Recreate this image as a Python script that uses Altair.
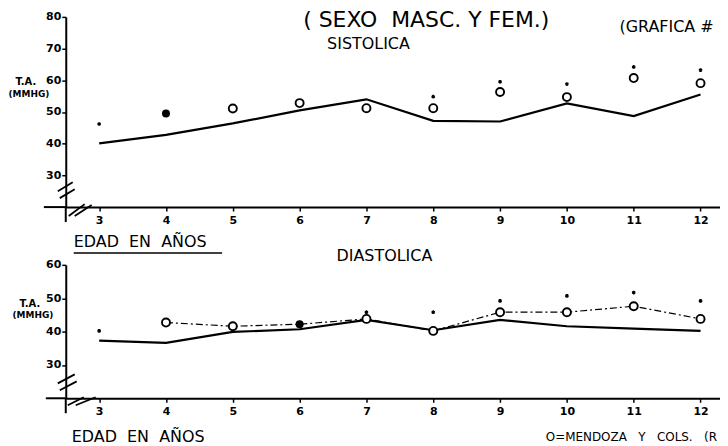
import altair as alt
import pandas as pd

# ---------------- data ----------------
ages = [3, 4, 5, 6, 7, 8, 9, 10, 11, 12]

# Sistolica panel
sist_line = [40.1, 42.8, 46.4, 50.5, 54.0, 47.2, 47.0, 52.7, 48.7, 55.5]
sist_mend_ages = [4, 5, 6, 7, 8, 9, 10, 11, 12]
sist_mend = [49.5, 51.1, 52.8, 51.2, 51.2, 56.3, 54.7, 60.7, 59.1]
sist_mend_filled = [True, False, False, False, False, False, False, False, False]
sist_star_ages = [3, 8, 9, 10, 11, 12]
sist_star = [45.9, 54.5, 59.2, 58.5, 63.9, 62.9]

# Diastolica panel
dias_line = [37.3, 36.6, 39.9, 40.7, 43.5, 40.4, 43.5, 41.6, 40.9, 40.2]
dias_mend_ages = [4, 5, 6, 7, 8, 9, 10, 11, 12]
dias_mend = [42.7, 41.6, 42.2, 43.8, 40.2, 45.8, 45.8, 47.6, 43.8]
dias_mend_filled = [False, False, True, False, False, False, False, False, False]
dias_star_ages = [3, 7, 8, 9, 10, 11, 12]
dias_star = [39.9, 45.5, 45.5, 48.9, 50.4, 51.4, 48.9]

sist_ticks = [30, 40, 50, 60, 70, 80]
dias_ticks = [30, 40, 50, 60]

FONT = "DejaVu Sans"
W = 657
XMAX = 2.5 + W / 67.1
STAR = "M0,-1L0,1M-0.87,-0.5L0.87,0.5M-0.87,0.5L0.87,-0.5"


def build_df(line_vals, m_ages, m_vals, m_filled, s_ages, s_vals):
    rows = []
    for a, v in zip(ages, line_vals):
        rows.append({"age": a, "value": v, "series": "line", "filled": False})
    for a, v, f in zip(m_ages, m_vals, m_filled):
        rows.append({"age": a, "value": v, "series": "mend", "filled": f})
    for a, v in zip(s_ages, s_vals):
        rows.append({"age": a, "value": v, "series": "star", "filled": False})
    return pd.DataFrame(rows)


def txt(text, x, y, size, align="center", weight="normal", baseline="middle"):
    return alt.Chart(alt.Data(values=[{}])).mark_text(
        text=text, font=FONT, fontSize=size, align=align, baseline=baseline,
        fontWeight=weight, color="black"
    ).encode(x=alt.value(x), y=alt.value(y))


def seg(x1, y1, x2, y2, w=2):
    return alt.Chart(alt.Data(values=[{}])).mark_rule(
        color="black", strokeWidth=w
    ).encode(x=alt.value(x1), y=alt.value(y1), x2=alt.value(x2), y2=alt.value(y2))


def panel(df, ymin, ymax, yticks, height, dashed_mend, texts):
    X = alt.X("age:Q", scale=alt.Scale(domain=[2.5, XMAX], nice=False, zero=False),
              axis=alt.Axis(values=ages, format="d", title=None, grid=False,
                            domainColor="black", domainWidth=2, tickColor="black",
                            tickWidth=1.5, tickSize=4, labelColor="black",
                            labelFont=FONT, labelFontSize=11, labelFontWeight="bold",
                            labelPadding=3))
    Y = alt.Y("value:Q", scale=alt.Scale(domain=[ymin, ymax], nice=False, zero=False),
              axis=alt.Axis(values=yticks, title=None, grid=False,
                            domainColor="black", domainWidth=2, tickColor="black",
                            tickWidth=1.5, tickSize=4, labelColor="black",
                            labelFont=FONT, labelFontSize=11, labelFontWeight="bold",
                            labelPadding=1))
    base = alt.Chart(df).encode(x=X, y=Y)
    layers = [
        base.transform_filter("datum.series == 'line'").mark_line(
            color="black", strokeWidth=2.2),
    ]
    if dashed_mend:
        layers.append(base.transform_filter("datum.series == 'mend'").mark_line(
            color="black", strokeWidth=1.2, strokeDash=[7, 3, 2, 3]))
    layers += [
        base.transform_filter("datum.series == 'mend' && !datum.filled").mark_point(
            shape="circle", size=65, color="black", strokeWidth=1.9, fill="white",
            filled=False, opacity=1),
        base.transform_filter("datum.series == 'mend' && datum.filled").mark_point(
            shape="circle", size=65, color="black", filled=True, opacity=1),
        base.transform_filter("datum.series == 'star'").mark_point(
            shape=STAR, size=14, color="black", strokeWidth=1.4, filled=False,
            opacity=1, yOffset=-1),
    ]
    layers += texts
    return alt.layer(*layers).properties(width=W, height=height)


# ---------------- top panel ----------------
top_df = build_df(sist_line, sist_mend_ages, sist_mend, sist_mend_filled,
                  sist_star_ages, sist_star)
HT = 191
top_texts = [
    txt("( SEXO\u00a0 MASC. Y FEM.)", 362, 3, 22),
    txt("(GRAFICA #", 556, 10, 16, align="left"),
    txt("SISTOLICA", 304, 27, 16),
    txt("T.A.", -40, 65, 10, weight="bold"),
    txt("(MMHG)", -37, 77, 9, weight="bold"),
    txt("EDAD\u00a0 EN\u00a0 A\u00d1OS", 8, 226, 16, align="left"),
    seg(8, 237, 157, 237, 1.5),
    # axis extensions
    seg(-22, HT, 0, HT),
    seg(0, HT, 0, HT + 15),
    # break marks
    seg(-8, 175, 7, 166, 1.8),
    seg(-6, 182, 9, 173, 1.8),
    seg(3, 200, 19, 188, 1.8),
    seg(9, 200, 26, 189, 1.8),
]
top = panel(top_df, 20, 80, sist_ticks, HT, False, top_texts)

# ---------------- bottom panel ----------------
bot_df = build_df(dias_line, dias_mend_ages, dias_mend, dias_mend_filled,
                  dias_star_ages, dias_star)
HB = 134
bot_texts = [
    txt("DIASTOLICA", 320, -9, 16),
    txt("T.A.", -36, 39, 10, weight="bold"),
    txt("(MMHG)", -33, 50, 9, weight="bold"),
    txt("EDAD\u00a0 EN\u00a0 A\u00d1OS", 6, 173, 16, align="left"),
    txt("O=MENDOZA\u00a0\u00a0 Y\u00a0\u00a0 COLS.\u00a0\u00a0 (R", 482, 173, 12, align="left"),
    seg(6, 183, 152, 183, 1.5),
    seg(-20, HB, 0, HB),
    seg(0, HB, 0, HB + 15),
    seg(-8, 119, 9, 110, 1.8),
    seg(-6, 126, 11, 117, 1.8),
    seg(2, 141, 18, 133, 1.8),
    seg(10, 141, 30, 133, 1.8),
]
bot = panel(bot_df, 20, 60, dias_ticks, HB, True, bot_texts)

chart = alt.vconcat(top, bot, spacing=58, bounds="flush").properties(
    padding=0, background="white"
).configure_view(stroke=None)

chart.save("out.html", embed_options={"renderer": "svg", "actions": False})
